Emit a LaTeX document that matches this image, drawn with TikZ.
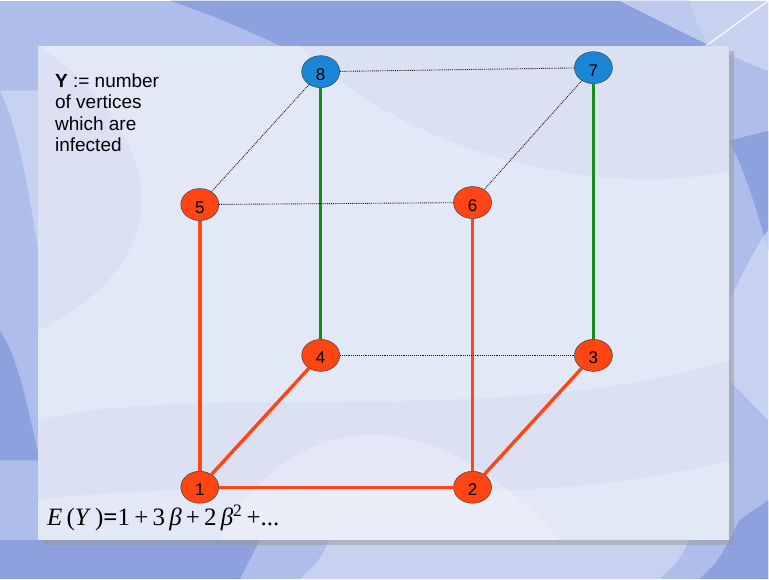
\documentclass[tikz,border=0pt]{standalone}
\usepackage{fontspec}
\setmainfont{Liberation Sans}
\newfontfamily\formulafont{Liberation Serif}
\usepackage{xcolor}
\definecolor{SlideBlue}{HTML}{AEBDEA}
\definecolor{SwirlBlue}{HTML}{8198DA}
\definecolor{SwirlLight}{HTML}{D3DCF4}
\definecolor{PanelMist}{HTML}{E3E8F6}
\definecolor{InfectRed}{HTML}{FF4514}
\definecolor{HealthyBlue}{HTML}{1C86D6}
\definecolor{PathGreen}{HTML}{1B8A1B}
\usepackage{tikz}
\usetikzlibrary{shapes.geometric}

\begin{document}
\begin{tikzpicture}[x=1pt,y=-1pt,
  vertex/.style={ellipse,draw=black!75,line width=0.5pt,minimum width=38pt,minimum height=32pt,inner sep=0pt,text height=17pt,text depth=0pt,font=\fontsize{17}{17}\selectfont},
  infected/.style={vertex,fill=InfectRed},
  healthy/.style={vertex,fill=HealthyBlue},
  spread/.style={draw=InfectRed,line width=3.4pt},
  blocked/.style={draw=PathGreen,line width=3.4pt},
  link/.style={draw=black!90,line width=0.9pt,densely dotted},
  swirl/.style={fill=SwirlBlue,fill opacity=0.75},
  glow/.style={fill=SwirlLight,fill opacity=0.7},
  haze/.style={fill=SwirlBlue,fill opacity=0.08}
]
% slide background
\fill[SlideBlue] (0,0) rectangle (769,579);
\path[swirl] (170,0) .. controls (260,30) and (300,60) .. (330,60) -- (720,60) .. controls (700,30) .. (690,0) -- cycle;
\path[glow] (620,0) .. controls (700,40) and (740,60) .. (769,70) -- (769,0) -- cycle;
\path[glow] (0,90) .. controls (20,130) and (30,200) .. (40,260) -- (40,90) -- cycle;
\path[swirl] (0,330) .. controls (20,360) and (30,420) .. (40,460) -- (0,460) -- cycle;
\path[swirl] (0,579) -- (0,540) -- (260,540) .. controls (250,560) .. (240,579) -- cycle;
\path[glow] (300,579) .. controls (320,560) .. (330,540) -- (690,540) .. controls (680,560) .. (660,579) -- cycle;
\path[swirl] (700,579) .. controls (720,560) .. (740,520) -- (769,500) -- (769,579) -- cycle;
\path[swirl] (730,140) .. controls (750,180) and (760,220) .. (769,250) -- (769,130) -- cycle;
\path[glow] (730,300) .. controls (750,260) and (760,240) .. (769,230) -- (769,420) .. controls (750,400) .. (730,380) -- cycle;
\draw[white,line width=1.5pt,opacity=0.8] (700,50) -- (769,0);
% panel
\fill[black!40,opacity=0.5] (43,50) rectangle (735,545);
\fill[PanelMist] (38,45) rectangle (730,540);
\path[haze] (38,45) .. controls (150,120) and (200,250) .. (38,330) -- cycle;
\path[haze] (300,45) .. controls (400,150) and (600,200) .. (730,170) -- (730,45) -- cycle;
\path[haze] (38,420) .. controls (200,380) and (500,430) .. (730,360) -- (730,460) .. controls (500,520) and (250,470) .. (38,500) -- cycle;
\path[fill=white,fill opacity=0.25] (220,540) .. controls (280,420) and (420,380) .. (560,540) -- cycle;

% cube vertices
\node[infected] (v1) at (200,487) {1};
\node[infected] (v2) at (473,487) {2};
\node[infected] (v3) at (594,355) {3};
\node[infected] (v4) at (321,355) {4};
\node[infected] (v5) at (200,204) {5};
\node[infected] (v6) at (473,202) {6};
\node[healthy] (v7) at (594,67) {7};
\node[healthy] (v8) at (321,71) {8};

% edges
\draw[spread] (v1) -- (v5);
\draw[spread] (v1) -- (v4);
\draw[spread] (v1) -- (v2);
\draw[spread] (v2) -- (v6);
\draw[spread] (v2) -- (v3);
\draw[blocked] (v8) -- (v4);
\draw[blocked] (v7) -- (v3);
\draw[link] (v8) -- (v7);
\draw[link] (v8) -- (v5);
\draw[link] (v7) -- (v6);
\draw[link] (v5) -- (v6);
\draw[link] (v4) -- (v3);

% texts
\node[anchor=north west,align=left,inner sep=0pt,font=\fontsize{19}{21.3}\selectfont] (caption) at (55,73) {\textbf{Y} := number\\of vertices\\which are\\infected};
\node[anchor=base west,inner sep=0pt,font=\formulafont\fontsize{25}{25}\selectfont] (expect) at (47,525) {\textit{E}\,(\textit{Y}\,)\textbf{=}1\,+\,3\,\textit{β}\,+\,2\,\textit{β}\textsuperscript{2}\,+...};
\end{tikzpicture}
\end{document}
